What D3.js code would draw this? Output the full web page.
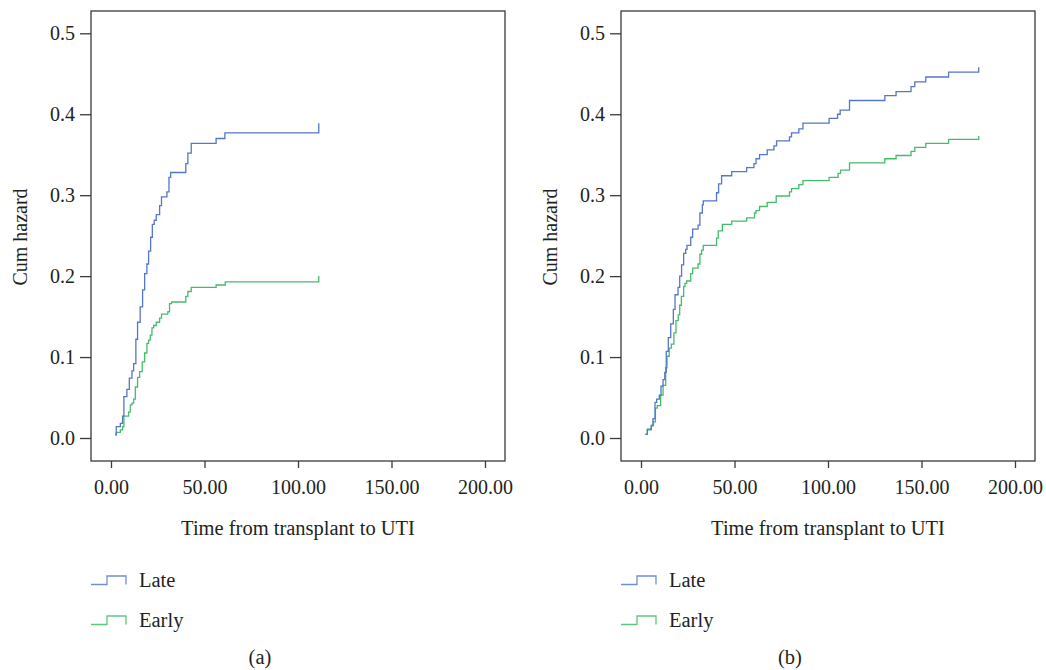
<!DOCTYPE html>
<html>
<head>
<meta charset="utf-8">
<script src="https://cdn.jsdelivr.net/npm/d3@7"></script>
<style>
  body { margin: 0; background: #fff; }
  svg text { font-family: "Liberation Serif", "Times New Roman", "DejaVu Serif", serif; fill: #231f20; }
</style>
</head>
<body>
<div id="chart"></div>
<script>
// tick labels
var xTicks = [0, 50, 100, 150, 200];
var yTicks = [0, 0.1, 0.2, 0.3, 0.4, 0.5];
var seriesNames = ["Late", "Early"];
var panelNames = ["(a)", "(b)"];

// panel (a) - cumulative hazard step points
var lateTimesA = [2.3, 2.8, 5.0, 6.2, 6.9, 8.5, 9.8, 11.2, 12.1, 13.3, 14.2, 15.6, 16.9, 18.0, 19.2, 20.1, 21.2, 22.1, 23.1, 24.2, 26.0, 27.0, 29.9, 31.0, 31.9, 40.0, 41.1, 42.9, 56.2, 60.9, 111.1];
var lateHazA = [0.004, 0.014, 0.018, 0.027, 0.051, 0.060, 0.074, 0.083, 0.092, 0.122, 0.143, 0.162, 0.183, 0.203, 0.215, 0.231, 0.248, 0.264, 0.269, 0.276, 0.287, 0.298, 0.304, 0.322, 0.328, 0.339, 0.352, 0.364, 0.370, 0.377, 0.389];
var earlyTimesA = [2.3, 2.8, 5.0, 6.2, 6.9, 9.4, 10.3, 11.2, 12.1, 13.0, 14.2, 15.3, 16.7, 18.0, 19.2, 20.1, 21.0, 21.9, 22.8, 24.2, 26.0, 27.0, 30.4, 31.3, 32.4, 40.0, 41.1, 42.9, 56.2, 61.1, 111.1];
var earlyHazA = [0.004, 0.007, 0.010, 0.014, 0.027, 0.032, 0.041, 0.043, 0.048, 0.063, 0.075, 0.082, 0.094, 0.105, 0.117, 0.121, 0.127, 0.136, 0.139, 0.143, 0.148, 0.153, 0.156, 0.166, 0.168, 0.175, 0.181, 0.186, 0.189, 0.193, 0.200];

// panel (b)
var lateTimesB = [2.3, 3.4, 5.5, 6.4, 7.5, 8.4, 9.8, 10.7, 11.8, 12.7, 13.5, 14.6, 15.9, 17.3, 18.2, 19.8, 20.7, 21.7, 22.8, 23.9, 24.6, 26.6, 27.6, 30.5, 31.5, 32.8, 33.3, 40.4, 41.5, 43.1, 48.5, 56.5, 60.4, 61.5, 63.4, 67.5, 71.1, 72.5, 79.4, 80.5, 84.4, 86.6, 100.6, 105.1, 106.5, 111.5, 130.4, 136.4, 144.4, 146.4, 152.3, 164.5, 180.6];
var lateHazB = [0.0045, 0.011, 0.015, 0.024, 0.044, 0.048, 0.053, 0.064, 0.072, 0.081, 0.107, 0.124, 0.141, 0.159, 0.177, 0.186, 0.200, 0.214, 0.228, 0.233, 0.238, 0.248, 0.258, 0.263, 0.278, 0.288, 0.293, 0.303, 0.314, 0.324, 0.329, 0.334, 0.339, 0.345, 0.350, 0.356, 0.361, 0.367, 0.372, 0.377, 0.382, 0.389, 0.395, 0.400, 0.405, 0.417, 0.423, 0.428, 0.434, 0.440, 0.446, 0.452, 0.458];
var earlyTimesB = [2.3, 3.4, 5.5, 6.6, 7.7, 8.7, 10.5, 11.8, 13.2, 13.9, 15.1, 16.2, 17.6, 18.7, 19.9, 20.7, 21.6, 22.8, 23.5, 24.4, 26.6, 27.6, 30.5, 31.5, 32.4, 33.3, 40.4, 41.3, 43.5, 48.5, 56.5, 60.7, 61.5, 63.4, 67.5, 72.3, 79.4, 80.5, 84.4, 86.6, 100.6, 105.4, 106.7, 111.5, 130.4, 136.4, 144.4, 146.4, 152.3, 164.5, 180.6];
var earlyHazB = [0.0045, 0.010, 0.016, 0.020, 0.037, 0.040, 0.053, 0.065, 0.087, 0.101, 0.111, 0.116, 0.130, 0.145, 0.152, 0.164, 0.175, 0.187, 0.191, 0.194, 0.203, 0.210, 0.215, 0.227, 0.232, 0.238, 0.247, 0.256, 0.264, 0.268, 0.272, 0.278, 0.281, 0.286, 0.291, 0.299, 0.304, 0.308, 0.313, 0.318, 0.322, 0.327, 0.331, 0.340, 0.345, 0.349, 0.354, 0.359, 0.364, 0.369, 0.373];

var colors = { Late: "#5577c8", Early: "#45bb6c" };
var legendColors = { Late: "#6f8fd4", Early: "#5cc77f" };

var opts = {
    frameTop: 11,
    frameBottom: 461,
    frameWidth: 414,
    xPad: 20,
    yTop: 33.3,
    yBottom: 438
};

var svg = d3.select("#chart")
    .append("svg")
    .attr("width", 1046)
    .attr("height", 670);

function zip(ts, vs) {
    return ts.map(function(t, i) { return [t, vs[i]]; });
}

function drawPanel(left, panelName, lateData, earlyData) {
    var right = left + opts.frameWidth;
    var x = d3.scaleLinear().domain([0, 200]).range([left + opts.xPad, right - opts.xPad]);
    var y = d3.scaleLinear().domain([0, 0.5]).range([opts.yBottom, opts.yTop]);

    var g = svg.append("g");

    // frame
    g.append("rect")
        .attr("x", left)
        .attr("y", opts.frameTop)
        .attr("width", opts.frameWidth)
        .attr("height", opts.frameBottom - opts.frameTop)
        .attr("fill", "none")
        .attr("stroke", "#3a3a3a")
        .attr("stroke-width", 1.3);

    // axes
    var xAxis = g.append("g")
        .attr("transform", "translate(0," + opts.frameBottom + ")")
        .call(d3.axisBottom(x).tickValues(xTicks).tickFormat(d3.format(".2f")).tickSize(7).tickPadding(12));
    var yAxis = g.append("g")
        .attr("transform", "translate(" + left + ",0)")
        .call(d3.axisLeft(y).tickValues(yTicks).tickFormat(d3.format(".1f")).tickSize(11).tickPadding(5));

    [xAxis, yAxis].forEach(function(a) {
        a.select(".domain").remove();
        a.selectAll(".tick line").attr("stroke", "#3a3a3a").attr("stroke-width", 1.3);
        a.selectAll(".tick text").attr("font-size", 20).attr("fill", "#231f20");
    });

    // axis titles
    g.append("text")
        .attr("x", (left + right) / 2)
        .attr("y", 535)
        .attr("text-anchor", "middle")
        .attr("font-size", 20.5)
        .text("Time from transplant to UTI");

    g.append("text")
        .attr("transform", "translate(" + (left - 64) + "," + 237 + ") rotate(-90)")
        .attr("text-anchor", "middle")
        .attr("font-size", 20)
        .text("Cum hazard");

    // curves
    var line = d3.line()
        .x(function(d) { return x(d[0]); })
        .y(function(d) { return y(d[1]); })
        .curve(d3.curveStepAfter);

    var series = [
        { name: "Late", data: lateData },
        { name: "Early", data: earlyData }
    ];

    // early first so late sits on top
    series.slice().reverse().forEach(function(s) {
        g.append("path")
            .datum(s.data)
            .attr("d", line)
            .attr("fill", "none")
            .attr("stroke", colors[s.name])
            .attr("stroke-width", 1.3);
    });

    // legend
    seriesNames.forEach(function(name, i) {
        var ly = 584.5 + i * 40;
        var lx = left;
        g.append("path")
            .attr("d", "M" + lx + "," + ly + "H" + (lx + 16) + "V" + (ly - 8.5) + "H" + (lx + 35) + "V" + ly)
            .attr("fill", "none")
            .attr("stroke", legendColors[name])
            .attr("stroke-width", 1.3);
        g.append("text")
            .attr("x", lx + 48)
            .attr("y", ly + 2.5)
            .attr("font-size", 20.5)
            .text(name);
    });

    // panel label
    g.append("text")
        .attr("x", (left + right) / 2 - 38)
        .attr("y", 664)
        .attr("text-anchor", "middle")
        .attr("font-size", 20.5)
        .text(panelName);
}

drawPanel(91, panelNames[0], zip(lateTimesA, lateHazA), zip(earlyTimesA, earlyHazA));
drawPanel(621, panelNames[1], zip(lateTimesB, lateHazB), zip(earlyTimesB, earlyHazB));
</script>
</body>
</html>
